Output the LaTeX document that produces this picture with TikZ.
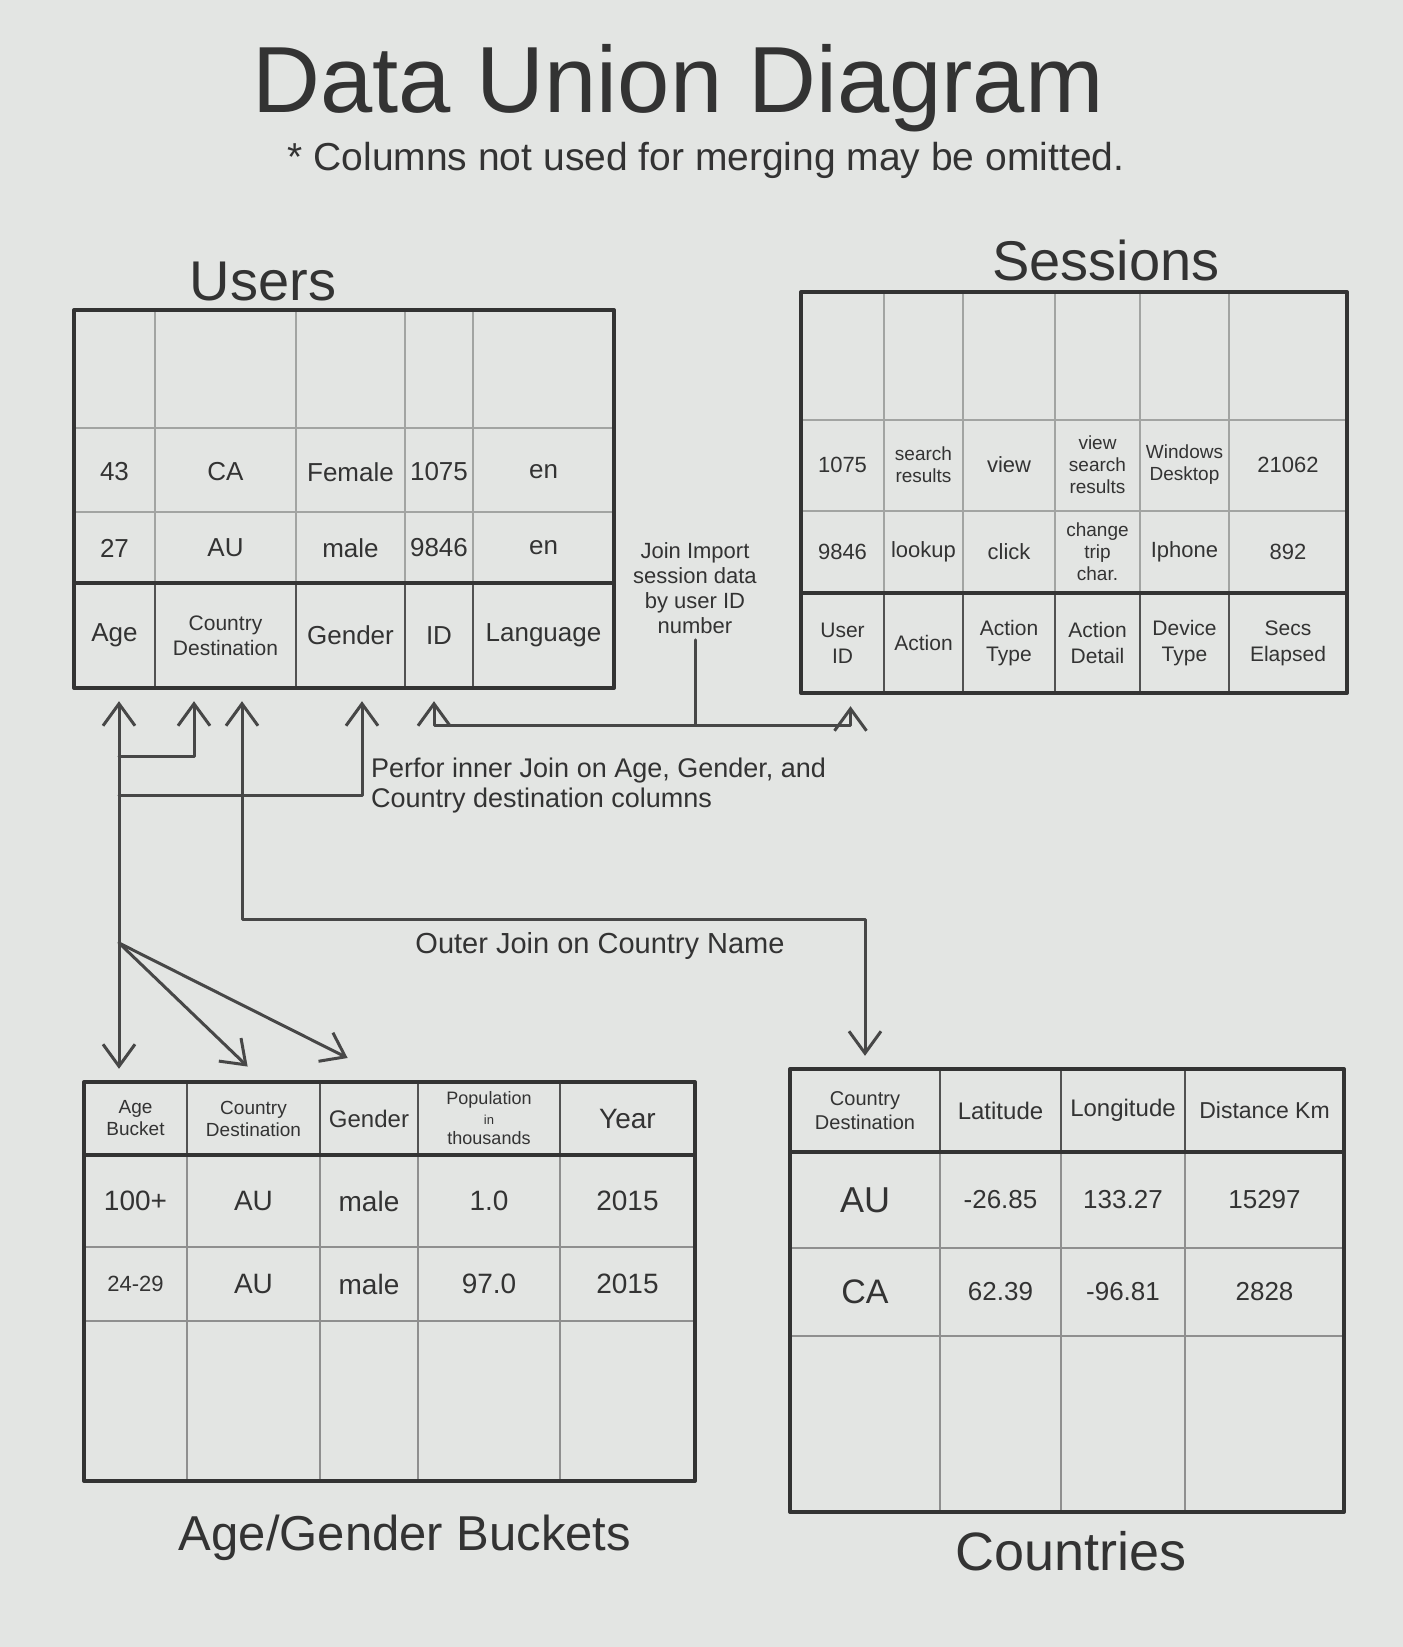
\documentclass[tikz,border=0pt]{standalone}
\usepackage{fontspec}
\setmainfont{Liberation Sans}
\usetikzlibrary{arrows.meta}
\definecolor{paper}{HTML}{E3E5E3}
\definecolor{ink}{HTML}{333333}
\definecolor{pencil}{HTML}{A2A4A2}
\begin{document}
\begin{tikzpicture}[x=1pt,y=-1pt,
  every node/.style={text=ink, inner sep=0pt, align=center},
  frame/.style={draw=ink, line width=4pt, line join=round},
  grid/.style={draw=pencil, line width=1.3pt},
  gridB/.style={draw=ink!55, line width=1.3pt},
  hline/.style={draw=ink, line width=4.5pt},
  hdiv/.style={draw=ink!85, line width=2.2pt},
  hcell/.style 2 args={minimum width=#1, minimum height=#2},
  conn/.style={draw=ink!90, line width=3pt, line cap=round, line join=round},
  oneway/.style={conn, -{Straight Barb[length=22pt,width=32pt]}, shorten >=13pt},
  twoway/.style={conn, {Straight Barb[length=22pt,width=32pt]}-{Straight Barb[length=22pt,width=32pt]}, shorten >=13pt, shorten <=13pt},
  datafont/.style={font=\fontsize{26}{30}\selectfont},
  smallfont/.style={font=\fontsize{19}{22}\selectfont},
]
\fill[paper] (0,0) rectangle (1403,1647);
\useasboundingbox (0,0) rectangle (1403,1647);

% ---------- headings ----------
\node[anchor=base, font=\fontsize{94}{100}\selectfont] (title) at (678,112) {Data Union Diagram};
\node[anchor=base, font=\fontsize{39}{44}\selectfont] (subtitle) at (706,170) {* Columns not used for merging may be omitted.};

% ---------- Users ----------
\node[anchor=base, font=\fontsize{56}{60}\selectfont] (usersT) at (263,300) {Users};
\foreach \x in {155,296,405,473} \draw[grid] (\x,310) -- (\x,583);
\foreach \y in {428,512} \draw[grid] (74,\y) -- (614,\y);
\foreach \x in {155,296,405,473} \draw[hdiv] (\x,583) -- (\x,688);
\draw[hline] (74,583) -- (614,583);
\draw[frame] (74,310) rectangle (614,688);
\node[datafont, hcell={81}{105}] (uAge) at (114.5,635.5) {Age};
\node[font=\fontsize{21}{25}\selectfont, hcell={141}{105}] (uCountry) at (225.5,635.5) {Country\\Destination};
\node[datafont, hcell={109}{105}] (uGender) at (350.5,635.5) {Gender};
\node[datafont, hcell={68}{105}] (uID) at (439,635.5) {ID};
\node[datafont, hcell={141}{105}] (uLang) at (543.5,635.5) {Language};
\node[datafont] (u11) at (114.5,472) {43};
\node[datafont] (u12) at (225.5,472) {CA};
\node[datafont] (u13) at (350.5,472) {Female};
\node[datafont] (u14) at (439,472) {1075};
\node[datafont] (u15) at (543.5,472) {en};
\node[datafont] (u21) at (114.5,548) {27};
\node[datafont] (u22) at (225.5,548) {AU};
\node[datafont] (u23) at (350.5,548) {male};
\node[datafont] (u24) at (439,548) {9846};
\node[datafont] (u25) at (543.5,548) {en};

% ---------- Sessions ----------
\node[anchor=base, font=\fontsize{56}{60}\selectfont] (sessionsT) at (1106,280) {Sessions};
\foreach \x in {884,963,1055,1140,1229} \draw[grid] (\x,292) -- (\x,593);
\foreach \y in {420,511} \draw[grid] (801,\y) -- (1347,\y);
\foreach \x in {884,963,1055,1140,1229} \draw[hdiv] (\x,593) -- (\x,693);
\draw[hline] (801,593) -- (1347,593);
\draw[frame] (801,292) rectangle (1347,693);
\begin{scope}[every node/.append style={font=\fontsize{21}{26}\selectfont}]
\node[hcell={83}{100}] (sUser) at (842.5,643) {User\\ID};
\node[hcell={79}{100}] (sAction) at (923.5,643) {Action};
\node[hcell={92}{100}] (sType) at (1009,643) {Action\\Type};
\node[hcell={85}{100}] (sDetail) at (1097.5,643) {Action\\Detail};
\node[hcell={89}{100}] (sDevice) at (1184.5,643) {Device\\Type};
\node[hcell={118}{100}] (sSecs) at (1288,643) {Secs\\Elapsed};
\end{scope}
\begin{scope}[every node/.append style={font=\fontsize{22}{26}\selectfont}]
\node (s11) at (842.5,465) {1075};
\node[smallfont] (s12) at (923.5,465) {search\\results};
\node (s13) at (1009,465) {view};
\node[smallfont] (s14) at (1097.5,465) {view\\search\\results};
\node[smallfont] (s15) at (1184.5,465) {Windows\\Desktop};
\node (s16) at (1288,465) {21062};
\node (s21) at (842.5,552) {9846};
\node (s22) at (923.5,552) {lookup};
\node (s23) at (1009,552) {click};
\node[smallfont] (s24) at (1097.5,552) {change\\trip\\char.};
\node (s25) at (1184.5,552) {Iphone};
\node (s26) at (1288,552) {892};
\end{scope}

% ---------- Age/Gender Buckets ----------
\foreach \x in {187,320,418,560} \draw[gridB] (\x,1155) -- (\x,1481);
\foreach \y in {1247,1321} \draw[gridB] (84,\y) -- (695,\y);
\foreach \x in {187,320,418,560} \draw[hdiv] (\x,1082) -- (\x,1155);
\draw[hline] (84,1155) -- (695,1155);
\draw[frame] (84,1082) rectangle (695,1481);
\node[smallfont, hcell={103}{73}] (bAge) at (135.5,1118.5) {Age\\Bucket};
\node[smallfont, hcell={133}{73}] (bCountry) at (253.5,1118.5) {Country\\Destination};
\node[font=\fontsize{24}{28}\selectfont, hcell={98}{73}] (bGender) at (369,1118.5) {Gender};
\node[font=\fontsize{18}{20}\selectfont, hcell={142}{73}] (bPop) at (489,1118.5) {Population\\{\fontsize{13}{13}\selectfont in}\\thousands};
\node[font=\fontsize{28}{30}\selectfont, hcell={135}{73}] (bYear) at (627.5,1118.5) {Year};
\begin{scope}[every node/.append style={font=\fontsize{28}{30}\selectfont}]
\node (b11) at (135.5,1201) {100+};
\node (b12) at (253.5,1201) {AU};
\node (b13) at (369,1201) {male};
\node (b14) at (489,1201) {1.0};
\node (b15) at (627.5,1201) {2015};
\node[font=\fontsize{22}{26}\selectfont] (b21) at (135.5,1284) {24-29};
\node (b22) at (253.5,1284) {AU};
\node (b23) at (369,1284) {male};
\node (b24) at (489,1284) {97.0};
\node (b25) at (627.5,1284) {2015};
\end{scope}
\node[anchor=base, font=\fontsize{49}{54}\selectfont] (bucketsT) at (405,1550) {Age/Gender Buckets};

% ---------- Countries ----------
\foreach \x in {940,1061,1185} \draw[gridB] (\x,1152) -- (\x,1512);
\foreach \y in {1248,1336} \draw[gridB] (790,\y) -- (1344,\y);
\foreach \x in {940,1061,1185} \draw[hdiv] (\x,1069) -- (\x,1152);
\draw[hline] (790,1152) -- (1344,1152);
\draw[frame] (790,1069) rectangle (1344,1512);
\node[font=\fontsize{20}{24}\selectfont, hcell={150}{83}] (cCountry) at (865,1110.5) {Country\\Destination};
\node[font=\fontsize{24}{28}\selectfont, hcell={121}{83}] (cLat) at (1000.5,1110.5) {Latitude};
\node[font=\fontsize{24}{28}\selectfont, hcell={124}{83}] (cLon) at (1123,1110.5) {Longitude};
\node[font=\fontsize{23}{28}\selectfont, hcell={159}{83}] (cDist) at (1264.5,1110.5) {Distance Km};
\begin{scope}[every node/.append style={font=\fontsize{26}{30}\selectfont}]
\node[font=\fontsize{36}{40}\selectfont] (c11) at (865,1200) {AU};
\node (c12) at (1000.5,1200) {-26.85};
\node (c13) at (1123,1200) {133.27};
\node (c14) at (1264.5,1200) {15297};
\node[font=\fontsize{34}{38}\selectfont] (c21) at (865,1292) {CA};
\node (c22) at (1000.5,1292) {62.39};
\node (c23) at (1123,1292) {-96.81};
\node (c24) at (1264.5,1292) {2828};
\end{scope}
\node[anchor=base, font=\fontsize{54}{58}\selectfont] (countriesT) at (1071,1570) {Countries};

% ---------- join connectors ----------
\coordinate (j1) at (119,756);
\coordinate (j2) at (119,795);
\coordinate (fan) at (119,943);
\coordinate (oj) at (865,919);
\coordinate (ij) at (695,725);

\draw[twoway] ([xshift=4.5]uAge.south) -- ([xshift=-16.5]bAge.north);
\draw[oneway] (j1) -| ([xshift=-31.5]uCountry.south);
\draw[oneway] (j2) -| ([xshift=11.5]uGender.south);
\draw[twoway] ([xshift=16.5]uCountry.south) |- (oj) -- (cCountry.north);
\draw[twoway] ([xshift=-5]uID.south) |- (ij) -| ([xshift=8]sUser.south);
\draw[oneway, shorten >=22pt] (fan) -- ([xshift=10]bCountry.north);
\draw[oneway, shorten >=53pt] (fan) -- ([xshift=26]bGender.north);

\node[font=\fontsize{22}{25}\selectfont] (jlabel) at (695,588) {Join Import\\session data\\by user ID\\number};
\draw[conn, shorten <=6pt] (jlabel.south) -- (ij);
\node[font=\fontsize{27}{30}\selectfont, align=left, anchor=west] (innerlbl) at (371,786) {Perfor inner Join on Age, Gender, and\\Country destination columns};
\node[font=\fontsize{29}{32}\selectfont] (outerlbl) at (600,946) {Outer Join on Country Name};
\end{tikzpicture}
\end{document}
